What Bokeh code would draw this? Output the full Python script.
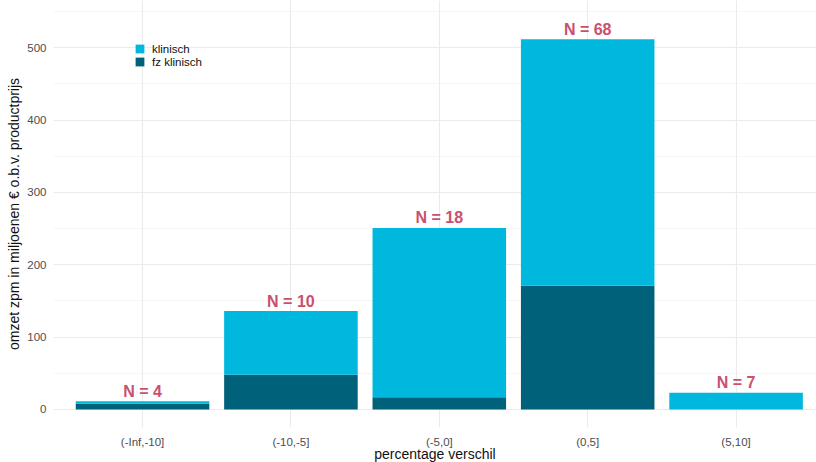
from bokeh.plotting import figure
from bokeh.models import (ColumnDataSource, Range1d, FixedTicker, Legend, LegendItem)
from bokeh.core.properties import value
from bokeh.embed import file_html
from bokeh.resources import INLINE

# ---- data ----
categories = ["(-Inf,-10]", "(-10,-5]", "(-5,0]", "(0,5]", "(5,10]"]
fz_klinisch = [8, 48, 17, 171, 0]
klinisch = [3.5, 88, 234, 341, 23]
n_counts = [4, 10, 18, 68, 7]

y_ticks = [0, 100, 200, 300, 400, 500]
y_minor = [50, 150, 250, 350, 450, 550]

LIGHT = "#00B8DE"
DARK = "#00617A"
NCOL = "#C9506E"
FONT = "Liberation Sans"

xs = list(range(1, len(categories) + 1))
totals = [a + b for a, b in zip(fz_klinisch, klinisch)]
src = ColumnDataSource(dict(x=xs, fz=fz_klinisch, kl=klinisch, total=totals,
                            lab=["N = %d" % n for n in n_counts]))

p = figure(frame_width=763, frame_height=427, output_backend="svg", toolbar_location=None,
           x_range=Range1d(0.4, 5.542), y_range=Range1d(-24.9, 565.4),
           min_border_left=53, min_border_right=0, min_border_top=0, min_border_bottom=35)
p.outline_line_color = None
p.background_fill_color = "white"

r = p.vbar_stack(["fz", "kl"], x="x", width=0.9, source=src,
                 color=[DARK, LIGHT], line_color=None)

p.text(x="x", y="total", text="lab", source=src, text_align="center",
       text_baseline="alphabetic", y_offset=-10, text_color=NCOL,
       text_font=value(FONT), text_font_style="bold", text_font_size="16px")

# axes
p.xaxis.ticker = FixedTicker(ticks=xs)
p.xaxis.major_label_overrides = {i: c for i, c in zip(xs, categories)}
p.yaxis.ticker = FixedTicker(ticks=y_ticks, minor_ticks=y_minor)
for ax in (p.xaxis, p.yaxis):
    ax.axis_line_color = None
    ax.major_tick_line_color = None
    ax.minor_tick_line_color = None
    ax.major_tick_out = 0
    ax.minor_tick_out = 0
    ax.major_tick_in = 0
    ax.minor_tick_in = 0
    ax.major_label_text_font = FONT
    ax.major_label_text_font_size = "11.5px"
    ax.major_label_text_color = "#4D4D4D"
    ax.axis_label_text_font = FONT
    ax.axis_label_text_font_size = "14px"
    ax.axis_label_text_font_style = "normal"
    ax.axis_label_text_color = "#111111"

p.xaxis.axis_label = "percentage verschil"
p.xaxis.major_label_standoff = 8
p.xaxis.axis_label_standoff = -5
p.yaxis.axis_label = "omzet zpm in miljoenen € o.b.v. productprijs"
p.yaxis.major_label_standoff = 7
p.yaxis.axis_label_standoff = 2

p.xgrid.grid_line_color = "#EBEBEB"
p.xgrid.grid_line_width = 1.1
p.ygrid.grid_line_color = "#EBEBEB"
p.ygrid.grid_line_width = 1.1
p.ygrid.minor_grid_line_color = "#F0F0F0"
p.ygrid.minor_grid_line_width = 0.6

legend = Legend(items=[LegendItem(label="klinisch", renderers=[r[1]]),
                       LegendItem(label="fz klinisch", renderers=[r[0]])],
                location=(81, 359), orientation="vertical",
                glyph_width=11, glyph_height=11, label_height=13, spacing=0,
                padding=0, margin=0, label_standoff=7,
                label_text_font=FONT, label_text_font_size="11.5px",
                label_text_color="#111111",
                background_fill_alpha=0, border_line_color=None)
p.add_layout(legend)

open("out.html", "w").write(file_html(p, INLINE))
